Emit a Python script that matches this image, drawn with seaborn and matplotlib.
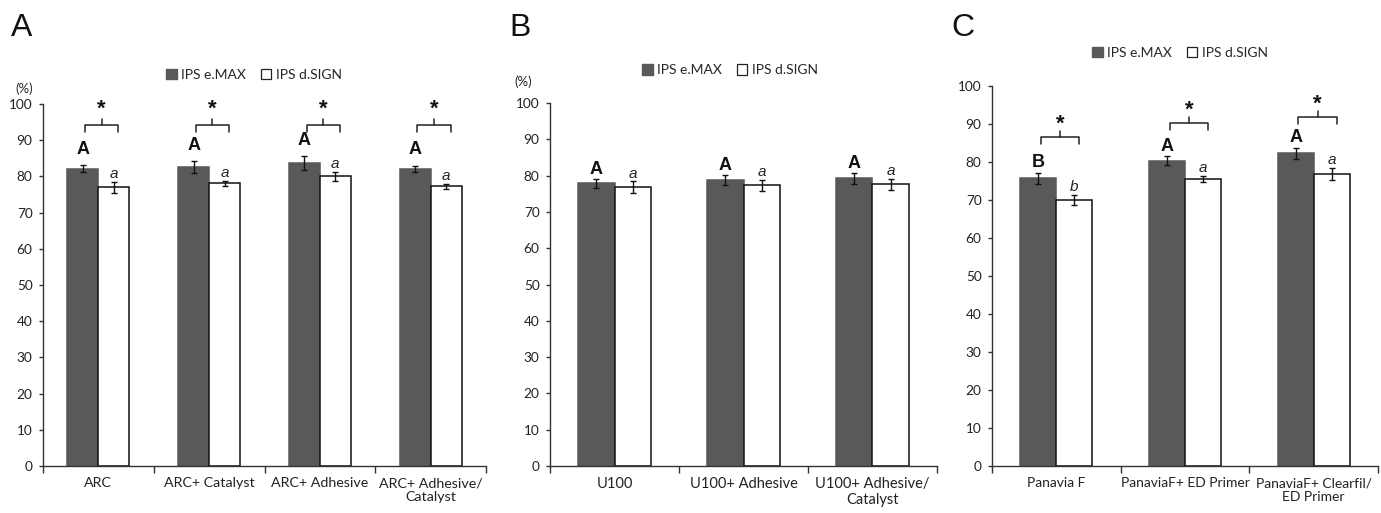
import numpy as np
import pandas as pd
import matplotlib
matplotlib.use("Agg")
import matplotlib.pyplot as plt
import seaborn as sns
from matplotlib.patches import Patch

# ---------------- data ----------------
materials = ["IPS e.MAX", "IPS d.SIGN"]

cats_a = ["ARC", "ARC+ Catalyst", "ARC+ Adhesive", "ARC+ Adhesive/\nCatalyst"]
emax_a = [82.1, 82.6, 83.7, 82.1]
emax_a_err = [1.0, 1.6, 1.8, 0.8]
dsign_a = [77.0, 78.1, 80.0, 77.3]
dsign_a_err = [1.5, 0.7, 1.2, 0.7]
let_emax_a = ["A", "A", "A", "A"]
let_dsign_a = ["a", "a", "a", "a"]
bracket_a = [94.2, 94.2, 94.2, 94.2]

cats_b = ["U100", "U100+ Adhesive", "U100+ Adhesive/\nCatalyst"]
emax_b = [77.9, 78.8, 79.3]
emax_b_err = [1.2, 1.4, 1.5]
dsign_b = [76.8, 77.3, 77.6]
dsign_b_err = [1.6, 1.6, 1.5]
let_emax_b = ["A", "A", "A"]
let_dsign_b = ["a", "a", "a"]
bracket_b = [None, None, None]

cats_c = ["Panavia F", "PanaviaF+ ED Primer", "PanaviaF+ Clearfil/\nED Primer"]
emax_c = [75.7, 80.3, 82.3]
emax_c_err = [1.5, 1.2, 1.5]
dsign_c = [70.0, 75.6, 76.9]
dsign_c_err = [1.3, 0.8, 1.6]
let_emax_c = ["B", "A", "A"]
let_dsign_c = ["b", "a", "a"]
bracket_c = [86.6, 90.2, 91.8]

yticks = [0, 10, 20, 30, 40, 50, 60, 70, 80, 90, 100]

# ---------------- style ----------------
sns.set_theme(style="white")
plt.rcParams["font.family"] = ["Lato", "DejaVu Sans"]

DARK = "#595959"
W, H = 1381, 513
fig = plt.figure(figsize=(W / 100, H / 100), dpi=100)


def px_rect(left, right, top, bottom):
    return [left / W, 1 - bottom / H, (right - left) / W, (bottom - top) / H]


def draw_panel(ax, cats, emax, emax_err, dsign, dsign_err, let_e, let_d,
               brackets, star_off, let_off, leg_xy, cat_fs):
    n = len(cats)
    df = pd.DataFrame({
        "cat": cats * 2,
        "material": [materials[0]] * n + [materials[1]] * n,
        "value": list(emax) + list(dsign),
    })
    sns.barplot(data=df, x="cat", y="value", hue="material", order=cats,
                hue_order=materials,
                palette={materials[0]: DARK, materials[1]: "white"},
                width=0.56, errorbar=None, legend=False, ax=ax,
                linewidth=1.1)
    for p in ax.containers[0]:
        p.set_edgecolor(DARK)
    for p in ax.containers[1]:
        p.set_edgecolor("#111111")

    xe = [p.get_x() + p.get_width() / 2 for p in ax.containers[0]]
    xd = [p.get_x() + p.get_width() / 2 for p in ax.containers[1]]

    ax.errorbar(xe, emax, yerr=emax_err, fmt="none", ecolor="#111111",
                elinewidth=1, capsize=2.5, capthick=1, zorder=5)
    ax.errorbar(xd, dsign, yerr=dsign_err, fmt="none", ecolor="#111111",
                elinewidth=1, capsize=2.5, capthick=1, zorder=5)

    for i in range(n):
        ax.text(xe[i], emax[i] + emax_err[i] + let_off, let_e[i], ha="center",
                va="baseline", fontsize=13, fontweight="bold",
                family=["Liberation Sans", "DejaVu Sans"], color="#111111")
        ax.text(xd[i], dsign[i] + dsign_err[i] + 1.0, let_d[i], ha="center",
                va="baseline", fontsize=11, fontstyle="italic",
                family=["Liberation Sans", "DejaVu Sans"], color="#222222")
        b = brackets[i]
        if b is not None:
            x0, x1 = xe[i] + 0.02, xd[i] + 0.04
            xm = (x0 + x1) / 2
            ax.plot([x0, x0, x1, x1], [b - 1.9, b, b, b - 1.9],
                    color="#222222", lw=1.1, clip_on=False)
            ax.plot([xm, xm], [b, b + 1.6], color="#222222", lw=1.1,
                    clip_on=False)
            ax.text(xm, b + star_off, "*", ha="center", va="center",
                    fontsize=16, fontweight="bold",
                    family=["Liberation Sans", "DejaVu Sans"],
                    color="#111111")

    ax.set_ylim(0, 100)
    ax.set_xlim(-0.5, n - 0.5)
    ax.set_yticks(yticks)
    ax.set_yticklabels([str(t) for t in yticks])
    ax.set_xticks(range(n))
    ax.set_xticklabels(cats, fontsize=cat_fs, color="#222222")
    ax.set_xticks(np.arange(n + 1) - 0.5, minor=True)
    ax.tick_params(axis="x", which="major", length=0, pad=8)
    ax.tick_params(axis="x", which="minor", length=5, width=1,
                   direction="out", color="#333333", bottom=True)
    ax.tick_params(axis="y", length=3, width=1, direction="out", pad=4.5,
                   labelsize=9.8, color="#333333", labelcolor="#222222",
                   left=True)
    ax.set_xlabel("")
    ax.set_ylabel("")
    for s in ["top", "right"]:
        ax.spines[s].set_visible(False)
    for s in ["left", "bottom"]:
        ax.spines[s].set_color("#333333")
        ax.spines[s].set_linewidth(1.0)
    ax.set_facecolor("white")

    handles = [Patch(facecolor=DARK, edgecolor=DARK, label=materials[0]),
               Patch(facecolor="white", edgecolor="#222222", lw=0.9,
                     label=materials[1])]
    ax.legend(handles=handles, loc="center", bbox_to_anchor=leg_xy, ncol=2,
              frameon=False, fontsize=10, handlelength=0.75,
              handleheight=0.75, handletextpad=0.3, columnspacing=1.1,
              borderaxespad=0)


ax_a = fig.add_axes(px_rect(43, 486, 104, 466))
ax_b = fig.add_axes(px_rect(550, 937, 103, 466))
ax_c = fig.add_axes(px_rect(992, 1378, 86, 466))

draw_panel(ax_a, cats_a, emax_a, emax_a_err, dsign_a, dsign_a_err,
           let_emax_a, let_dsign_a, bracket_a, 4.4, 3.2, (0.476, 1.08), 10.3)
draw_panel(ax_b, cats_b, emax_b, emax_b_err, dsign_b, dsign_b_err,
           let_emax_b, let_dsign_b, bracket_b, 4.0, 1.4, (0.465, 1.09), 10.5)
draw_panel(ax_c, cats_c, emax_c, emax_c_err, dsign_c, dsign_c_err,
           let_emax_c, let_dsign_c, bracket_c, 3.4, 1.4, (0.487, 1.087), 10.0)

# "(%)" axis unit labels
fig.text(24 / W, 1 - 89 / H, "(%)", ha="center", va="center", fontsize=9.5,
         color="#222222")
fig.text(523 / W, 1 - 82 / H, "(%)", ha="center", va="center", fontsize=9.5,
         color="#222222")

# panel letters
for lab, x in [("A", 22), ("B", 520), ("C", 963)]:
    fig.text(x / W, 1 - 28 / H, lab, ha="center", va="center", fontsize=23,
             family=["Liberation Sans", "DejaVu Sans"], color="#111111")

fig.savefig("out.png", dpi=100, facecolor="white")
